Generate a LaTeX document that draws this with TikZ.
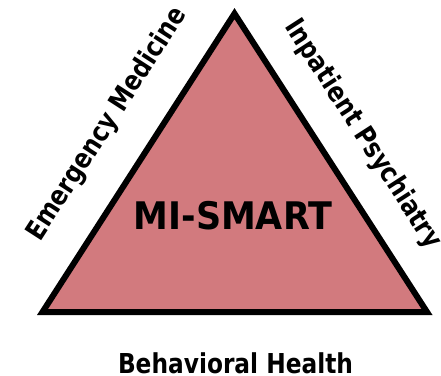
\documentclass[tikz,border=0pt]{standalone}
\usepackage{fontspec}
\setmainfont{DejaVu Sans}
\newfontfamily\lblfont[FakeStretch=0.85]{DejaVu Sans Bold}
\newfontfamily\titlefont[FakeStretch=0.92]{DejaVu Sans Bold}
\definecolor{trifill}{RGB}{210,122,126}
\begin{document}
\begin{tikzpicture}[x=1pt,y=-1pt,
  lbl/.style={font=\lblfont\fontsize{27.4}{30}\selectfont, inner sep=0pt, anchor=base},
  ttl/.style={font=\titlefont\fontsize{38}{42}\selectfont, inner sep=0pt, anchor=base},
  tri/.style={fill=trifill, draw=black, line width=6pt, line join=miter}]
\useasboundingbox (0,0) rectangle (441,375);
\coordinate (top) at (234.5,13.6);
\coordinate (bl) at (42.5,312);
\coordinate (br) at (427,312);
\draw[tri] (top) -- (bl) -- (br) -- cycle;
\node[ttl] (title) at (233,229.5) {MI-SMART};
\node[lbl] (bottom) at (235.5,373) {Behavioral Health};
\node[lbl, rotate=57.2] (left) at (113.7,128.3) {Emergency Medicine};
\node[lbl, rotate=-57.2] (right) at (356.3,138.3) {Inpatient Psychiatry};
\end{tikzpicture}
\end{document}
